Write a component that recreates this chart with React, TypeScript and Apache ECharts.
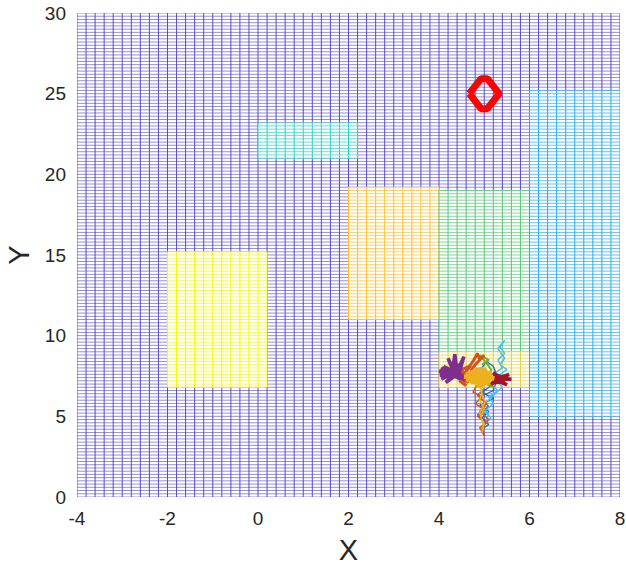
import React, { useEffect, useRef } from "react";
import * as echarts from "echarts";

// Mesh spacing in data units
const STEP = 0.2;

// Axis ranges and ticks
const xMin = -4, xMax = 8, xTick = 2;
const yMin = 0, yMax = 30, yTick = 5;

// Base mesh extent [x0, x1, y0, y1]
const baseRegion = [-4, 8, 0, 30];
const baseColor = "#4433b5";

// Coloured zones on the mesh [x0, x1, y0, y1]
const zoneBounds = [
  [-2, 0.2, 6.8, 15.2],
  [0, 2.2, 21, 23.2],
  [2, 4, 11, 19.2],
  [4, 6, 9, 19.0],
  [4, 6, 6.8, 9],
  [6, 8, 5, 25.2],
];
const zoneColors = ["#f5f70f", "#2fd0c4", "#fcc22c", "#55c877", "#e6d23a", "#2aace6"];

// Target marker outline
const targetX = [4.67, 4.93, 5.07, 5.33, 5.07, 4.93, 4.67];
const targetY = [25, 25.93, 25.93, 25, 24.07, 24.07, 25];

// Agent paths
const pathPurple = [
  [4.3, 7.65], [4.0, 7.8], [4.25, 7.6], [4.05, 7.3], [4.35, 7.7], [4.2, 8.6], [4.3, 7.9],
  [4.35, 8.85], [4.4, 7.8], [4.55, 8.7], [4.45, 7.7], [4.62, 7.25], [4.35, 7.5], [4.15, 7.1],
  [4.3, 7.55], [4.02, 7.55], [4.3, 7.8], [4.1, 8.1], [4.4, 7.6], [4.5, 8.3], [4.25, 7.75],
  [4.45, 7.35], [4.2, 7.65], [4.05, 8.0], [4.35, 7.6], [4.15, 7.85], [4.45, 7.95], [4.2, 7.4],
  [4.5, 7.55],
];
const pathGold = [
  [4.85, 7.4], [4.6, 7.6], [5.05, 7.9], [4.7, 7.1], [5.15, 7.5], [4.75, 7.85], [5.0, 6.9],
  [4.6, 7.3], [5.1, 7.2], [4.8, 7.95], [4.95, 7.1], [5.15, 7.7], [4.65, 7.5], [4.9, 6.85],
  [5.05, 7.4], [4.7, 7.7], [4.95, 7.95], [5.1, 7.05], [4.8, 7.25], [4.9, 7.6], [5.22, 7.35],
  [4.85, 7.45], [4.55, 7.45],
];
const pathGoldTail = [
  [4.9, 7.0], [4.95, 6.5], [4.9, 6.0], [5.0, 5.5], [4.92, 5.0], [5.0, 4.5], [4.95, 4.0],
  [4.98, 4.5], [4.9, 5.2], [5.02, 5.9], [4.92, 6.6],
];
const pathOrange = [
  [4.7, 7.5], [4.45, 7.2], [4.6, 6.9], [4.4, 7.5], [4.65, 7.1], [4.5, 7.9], [4.7, 8.15],
  [4.55, 7.6], [4.75, 8.4], [4.85, 8.9], [4.9, 8.5], [5.0, 8.8], [4.8, 8.2], [4.7, 7.8],
];
const pathOrangeTail = [
  [4.85, 7.0], [4.75, 6.5], [4.95, 6.2], [4.8, 5.8], [5.0, 5.4], [4.85, 5.0], [5.05, 4.6],
  [4.9, 4.3], [5.0, 3.8], [4.95, 4.4], [5.1, 4.8], [4.9, 5.3], [5.05, 5.8], [4.85, 6.3],
  [5.0, 6.7],
];
const pathBlue = [
  [5.0, 7.3], [5.15, 6.9], [4.95, 6.5], [5.2, 6.1], [4.9, 5.7], [5.1, 5.3], [4.95, 4.9],
  [5.1, 4.5], [4.95, 4.2], [5.05, 4.7], [4.85, 5.1], [5.1, 5.6], [4.9, 6.2], [5.2, 6.6],
  [5.3, 7.4], [5.2, 8.1], [5.05, 8.4], [4.95, 8.0],
];
const pathSky = [
  [5.2, 7.6], [5.4, 8.0], [5.3, 8.5], [5.45, 8.9], [5.35, 9.3], [5.45, 9.7], [5.3, 9.2],
  [5.45, 8.6], [5.35, 8.2], [5.5, 7.9], [5.3, 7.5], [5.15, 7.0], [5.3, 6.6], [5.1, 6.2],
  [5.2, 5.8], [5.0, 5.3], [5.15, 4.9], [5.0, 4.5], [5.1, 5.1], [4.95, 5.6], [5.2, 6.3],
  [5.4, 6.8], [5.25, 7.3],
];
const pathRed = [
  [5.33, 7.3], [5.55, 7.6], [5.3, 7.35], [5.15, 7.0], [5.35, 7.25], [5.5, 6.95], [5.3, 7.2],
  [5.2, 7.7], [5.35, 7.4], [5.6, 7.3], [5.3, 7.3], [5.18, 7.35], [5.45, 7.5], [5.25, 7.1],
  [5.4, 7.15], [5.28, 7.55], [5.5, 7.3],
];
const pathGreen = [
  [4.95, 8.2], [5.1, 8.5], [4.9, 8.8], [5.05, 8.3], [5.15, 7.9], [5.1, 7.1], [5.2, 6.8],
  [5.05, 7.0],
];

const paths = [
  { data: pathBlue, color: "#0072BD", width: 1.3 },
  { data: pathSky, color: "#4DBEEE", width: 1.5 },
  { data: pathOrangeTail, color: "#D95319", width: 1.5 },
  { data: pathGoldTail, color: "#EDB120", width: 1.5 },
  { data: pathGreen, color: "#77AC30", width: 2 },
  { data: pathOrange, color: "#D95319", width: 3 },
  { data: pathPurple, color: "#7E2F8E", width: 3.5 },
  { data: pathRed, color: "#A2142F", width: 3.5 },
  { data: pathGold, color: "#EDB120", width: 4.5 },
];

const FONT = "'Liberation Sans', Arial, Helvetica, sans-serif";

function meshItem(params: any, api: any) {
  const x0 = api.value(0), x1 = api.value(1), y0 = api.value(2), y1 = api.value(3);
  const isBase = api.value(4) < 0;
  const color = isBase ? baseColor : zoneColors[api.value(4)];
  const vOpacity = isBase ? 0.85 : 1;
  const hOpacity = isBase ? 0.55 : 0.72;
  const tl = api.coord([x0, y1]);
  const br = api.coord([x1, y0]);
  const children: any[] = [
    { type: "rect", shape: { x: tl[0], y: tl[1], width: br[0] - tl[0], height: br[1] - tl[1] }, style: { fill: "#ffffff" } },
  ];
  const nx = Math.round((x1 - x0) / STEP);
  for (let k = 0; k <= nx; k++) {
    const p = api.coord([x0 + k * STEP, y0]);
    children.push({
      type: "line",
      shape: { x1: p[0], y1: tl[1], x2: p[0], y2: br[1] },
      style: { stroke: color, lineWidth: 1, opacity: vOpacity },
    });
  }
  const ny = Math.round((y1 - y0) / STEP);
  for (let k = 0; k <= ny; k++) {
    const p = api.coord([x0, y0 + k * STEP]);
    children.push({
      type: "line",
      shape: { x1: tl[0], y1: p[1], x2: br[0], y2: p[1] },
      style: { stroke: color, lineWidth: 1, opacity: hOpacity },
    });
  }
  return { type: "group", children };
}

export default function App() {
  const ref = useRef<HTMLDivElement>(null);
  useEffect(() => {
    const chart = echarts.init(ref.current!, undefined, { renderer: "svg" });
    const meshData = [
      [...baseRegion, -1],
      ...zoneBounds.map((b, i) => [...b, i]),
    ];
    chart.setOption({
      animation: false,
      backgroundColor: "#ffffff",
      grid: { left: 77, right: 6, top: 13, bottom: 70, outerBoundsMode: "none", containLabel: false },
      xAxis: {
        type: "value", min: xMin, max: xMax, interval: xTick,
        axisLine: { show: false }, axisTick: { show: false }, splitLine: { show: false },
        axisLabel: { color: "#262626", fontSize: 19, fontFamily: FONT, margin: 12 },
        name: "X", nameLocation: "middle", nameGap: 38,
        nameTextStyle: { color: "#262626", fontSize: 29, fontFamily: FONT },
      },
      yAxis: {
        type: "value", min: yMin, max: yMax, interval: yTick,
        axisLine: { show: false }, axisTick: { show: false }, splitLine: { show: false },
        axisLabel: { color: "#262626", fontSize: 19, fontFamily: FONT, margin: 11 },
        name: "Y", nameLocation: "middle", nameGap: 38,
        nameTextStyle: { color: "#262626", fontSize: 29, fontFamily: FONT },
      },
      series: [
        {
          type: "custom",
          renderItem: meshItem,
          data: meshData,
          encode: { x: [0, 1], y: [2, 3] },
          clip: true,
          silent: true,
          z: 1,
        },
        {
          type: "line",
          data: targetX.map((x, i) => [x, targetY[i]]),
          showSymbol: false,
          lineStyle: { color: "#ff0000", width: 7, join: "bevel" },
          silent: true,
          z: 5,
        },
        ...paths.map((p) => ({
          type: "line",
          data: p.data,
          showSymbol: false,
          lineStyle: { color: p.color, width: p.width },
          silent: true,
          z: 4,
        })),
      ],
    });
    return () => chart.dispose();
  }, []);
  return <div ref={ref} style={{ position: "fixed", left: 0, top: 0, width: 626, height: 567 }} />;
}
